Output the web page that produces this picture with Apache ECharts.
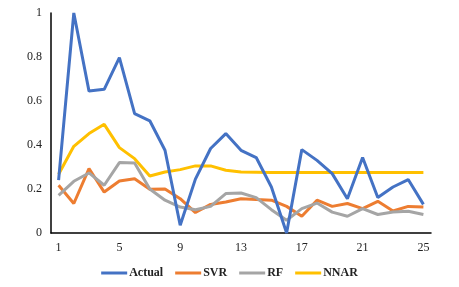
<!DOCTYPE html>
<html><head><meta charset="utf-8">
<script src="https://cdn.jsdelivr.net/npm/echarts@6/dist/echarts.min.js"></script>
<style>html,body{margin:0;padding:0;background:#fff}#c{width:459px;height:287px}</style>
</head><body><div id="c"></div>
<script>
const categories = ['1','2','3','4','5','6','7','8','9','10','11','12','13','14','15','16','17','18','19','20','21','22','23','24','25'];
const actual = [0.24,1.0,0.645,0.653,0.797,0.543,0.51,0.376,0.035,0.245,0.384,0.452,0.376,0.343,0.209,0.0,0.379,0.33,0.27,0.156,0.343,0.161,0.209,0.243,0.13];
const svr = [0.217,0.134,0.293,0.186,0.236,0.247,0.199,0.2,0.156,0.093,0.13,0.141,0.156,0.152,0.149,0.121,0.076,0.149,0.121,0.134,0.111,0.144,0.1,0.121,0.118];
const rf = [0.171,0.235,0.273,0.217,0.32,0.318,0.2,0.149,0.118,0.106,0.121,0.179,0.182,0.161,0.106,0.058,0.111,0.136,0.095,0.076,0.111,0.084,0.095,0.099,0.084];
const nnar = [0.267,0.394,0.452,0.494,0.388,0.338,0.259,0.277,0.288,0.305,0.305,0.285,0.277,0.276,0.275,0.275,0.275,0.275,0.275,0.275,0.275,0.275,0.275,0.275,0.275];
const seriesNames = ['Actual','SVR','RF','NNAR'];
const colors = ['#4472C4','#ED7D31','#A5A5A5','#FFC000'];
const yTicks = {min:0,max:1,interval:0.2};

const chart = echarts.init(document.getElementById('c'));
const font = '"Liberation Serif","Times New Roman",serif';
const data = [actual, svr, rf, nnar];
chart.setOption({
  animation:false,
  color: colors,
  grid:{left:51,right:28,top:13,bottom:54,containLabel:false},
  legend:{
    data: seriesNames, bottom:3, left:'center', icon:'rect', itemWidth:26, itemHeight:3, itemGap:12,
    textStyle:{fontFamily:font,fontWeight:'bold',fontSize:12,color:'#222',padding:[0,0,0,-3]}
  },
  xAxis:{type:'category',data:categories,boundaryGap:true,
    axisLine:{lineStyle:{color:'#000',width:1.5}},axisTick:{show:false},
    axisLabel:{interval:3,fontFamily:font,fontSize:12,color:'#222',margin:9}},
  yAxis:{type:'value',min:yTicks.min,max:yTicks.max,interval:yTicks.interval,
    splitLine:{show:false},
    axisLine:{show:true,lineStyle:{color:'#000',width:1.5}},axisTick:{show:false},
    axisLabel:{fontFamily:font,fontSize:12,color:'#222',margin:9}},
  series: seriesNames.map((n,i)=>({name:n,type:'line',data:data[i],symbol:'none',
    lineStyle:{width:3,color:colors[i]},z: i===0?3:2}))
});
</script></body></html>
